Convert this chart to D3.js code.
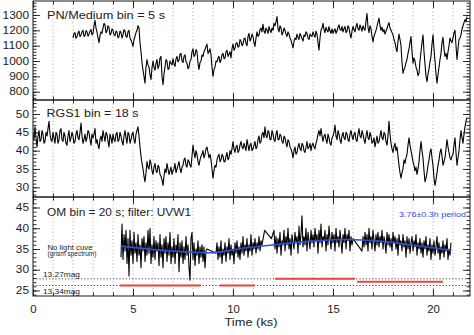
<!DOCTYPE html>
<html><head><meta charset="utf-8">
<script src="https://cdn.jsdelivr.net/npm/d3@7"></script>
<style>
body{margin:0;background:#fff;}
svg{display:block;font-family:"Liberation Sans",Arial,sans-serif;}
</style></head><body>
<svg id="c" width="474" height="335"></svg>
<script>
// ---------------- data ----------------
const xTicks = [0, 5, 10, 15, 20];
const pnTicks = [800, 900, 1000, 1100, 1200, 1300];
const rgsTicks = [30, 35, 40, 45, 50];
const omTicks = [25, 30, 35, 40, 45];

// EPIC-pn count rate, 0.05 ks bins from 2.0 ks
const pnStart = 2.0, pnStep = 0.05;
const pnValues = [
 1150,1178,1185,1148,1160,1182,1195,1158,1170,1190,1200,1160,1165,1198,1190,1162,1175,1195,1205,1170,
 1180,1230,1265,1215,1190,1150,1120,1165,1190,1180,1215,1245,1235,1185,1195,1230,1220,1170,1180,1210,
 1200,1170,1165,1195,1190,1150,1160,1195,1185,1150,1170,1205,1195,1160,1155,1190,1200,1150,1135,1120,
 1095,1140,1160,1185,1200,1230,1215,1120,1060,990,940,900,855,960,1010,975,960,910,880,955,
 1000,960,940,985,1010,950,970,1020,1030,900,845,915,960,1010,1000,945,950,1000,985,975,
 1015,980,965,1015,1030,995,1005,1045,1050,1000,990,1030,1040,995,985,950,960,1000,1010,1060,
 1080,1030,1040,1075,1060,985,945,990,1000,1040,1030,1060,1075,1095,1110,1050,1060,1080,1040,960,
 900,945,960,1000,995,1020,1030,990,1005,1040,1050,1015,1020,1060,1070,1030,1045,1060,1020,1080,
 1110,1070,1085,1115,1120,1090,1095,1140,1130,1100,1110,1145,1150,1115,1100,1160,1180,1130,1145,1175,
 1160,1120,1095,1150,1190,1160,1170,1205,1215,1190,1240,1195,1180,1215,1200,1180,1225,1200,1185,1215,
 1200,1245,1230,1255,1290,1210,1190,1230,1215,1170,1185,1215,1200,1175,1160,1190,1175,1150,1135,1110,
 1085,1125,1150,1140,1175,1155,1140,1180,1165,1145,1130,1170,1160,1190,1180,1150,1140,1175,1165,1160,
 1190,1170,1155,1195,1175,1120,1070,1150,1200,1215,1245,1205,1185,1220,1200,1190,1225,1195,1180,1210,
 1180,1195,1210,1180,1195,1220,1235,1205,1200,1225,1190,1210,1225,1185,1195,1230,1215,1175,1150,1195,
 1225,1205,1190,1225,1245,1210,1200,1235,1215,1195,1230,1210,1200,1260,1310,1220,1185,1230,1210,1160,
 1125,1160,1180,1200,1225,1255,1280,1230,1200,1220,1190,1205,1175,1195,1210,1235,1250,1215,1200,1185,
 1170,1140,1120,1085,1060,1130,1175,1140,1100,990,920,945,960,990,1010,1050,1080,1120,1160,1060,
 985,1020,1000,960,940,905,920,1000,1060,1120,1170,1060,980,900,865,915,950,995,1030,1110,
 1170,1080,1000,915,855,910,960,1010,1050,1120,1155,1080,1030,1050,1010,1060,1100,1150,1130,1120,
 1150,1185,1200,1100,1010,1080,1140,1150,1170,1210,1230,1250,1270,1255,1290
];

// RGS1 count rate, 0.05 ks bins from 0 ks
const rgsStart = 0.0, rgsStep = 0.05;
const rgsValues = [
 44.5,43.0,46.5,43.5,41.0,44.0,45.5,42.5,43.0,45.5,44.5,42.0,42.5,45.0,44.0,46.0,48.0,44.5,43.0,42.5,
 45.0,43.5,42.0,45.0,44.5,42.0,43.0,45.5,46.0,43.0,42.5,45.0,44.0,42.0,41.5,44.0,45.5,42.5,43.5,45.0,
 44.0,42.0,42.5,44.5,45.5,43.5,43.0,45.0,47.5,44.0,42.0,43.0,44.5,42.5,43.5,45.5,45.0,43.0,41.5,44.5,
 43.5,44.5,46.0,42.0,43.0,41.5,40.5,43.0,44.0,42.5,45.5,44.0,42.5,45.0,44.5,42.5,41.0,44.5,43.5,42.0,
 44.5,43.0,42.5,44.5,45.0,42.5,43.0,45.0,44.0,42.5,41.5,44.0,45.5,43.5,42.0,45.0,44.5,42.0,43.0,44.5,
 45.0,43.0,42.0,44.5,45.5,46.5,44.0,41.0,38.5,36.5,35.0,33.0,31.5,34.0,37.0,35.5,35.0,37.5,36.5,34.5,
 33.5,35.5,36.5,34.5,34.0,36.0,35.5,33.5,33.0,32.0,30.5,33.0,35.0,34.0,36.5,35.0,33.5,34.5,35.5,33.5,
 34.5,35.0,36.5,34.0,35.0,36.0,37.0,35.0,34.0,35.5,36.0,37.5,38.0,36.0,35.5,37.5,37.0,36.0,35.5,38.5,
 41.5,39.5,38.0,40.0,39.0,37.0,36.0,37.5,38.5,39.0,40.0,38.0,39.0,40.5,41.0,39.5,38.0,39.0,37.5,35.0,
 32.5,34.5,36.0,35.5,37.5,38.5,39.0,37.0,37.5,39.0,38.5,37.0,37.0,38.5,39.5,37.5,38.0,40.0,39.0,40.5,
 42.5,40.5,39.5,41.0,41.5,39.5,40.0,41.5,42.5,41.0,40.5,42.0,41.0,40.0,43.0,41.5,40.0,41.5,42.0,40.0,
 40.5,41.5,42.5,40.5,41.0,43.0,44.0,42.0,42.5,44.5,45.0,43.5,46.5,44.0,43.5,45.5,45.0,43.0,43.0,45.5,
 44.5,43.0,42.5,44.5,45.5,43.0,43.0,44.5,44.0,42.5,42.0,44.0,43.5,42.0,41.0,43.0,42.5,41.0,40.5,39.5,
 38.0,40.0,41.0,39.0,39.5,41.0,42.0,40.5,40.0,42.0,41.5,40.0,39.5,41.0,42.5,40.5,41.0,42.0,40.0,41.5,
 42.0,41.0,40.5,42.0,43.0,44.5,45.5,44.0,46.0,44.0,42.5,44.0,44.5,43.0,42.0,44.5,43.5,42.0,41.5,43.5,
 44.0,45.0,47.0,44.0,43.0,45.5,44.5,43.0,42.0,44.0,45.0,43.5,43.0,45.0,44.5,43.0,42.5,44.5,45.5,44.0,
 43.0,44.5,45.0,43.0,42.5,44.5,46.0,44.0,43.5,45.5,44.5,43.0,42.0,44.0,45.5,43.5,43.0,45.0,44.0,42.0,
 42.5,43.5,41.0,42.5,44.0,42.0,42.5,44.0,45.5,43.5,43.0,45.0,44.5,42.5,41.5,44.0,48.0,44.5,42.0,40.5,
 39.5,41.0,42.0,40.0,41.0,38.5,36.0,34.0,32.5,34.0,35.0,37.5,36.5,38.0,39.0,41.5,43.5,41.5,40.0,38.5,
 37.0,36.0,34.5,35.5,33.5,35.0,37.0,40.0,42.5,40.0,38.0,34.5,31.5,32.5,34.0,36.0,37.5,39.5,40.5,38.0,
 36.0,32.5,30.5,32.0,34.0,36.0,37.5,39.5,40.5,38.5,36.0,37.0,38.0,40.5,43.0,41.0,39.5,38.0,37.5,38.5,
 39.0,41.5,43.5,39.5,36.0,38.0,40.0,43.0,45.5,43.5,42.0,44.5,46.5,48.0,49.0
];

// OM light curve: segments (start time, bin step, values)
const omStarts = [4.40, 9.15, 11.58, 12.05, 16.45];
const omSteps  = [0.05, 0.05, 0.34, 0.05, 0.05];
const omSeg1 = [
 33.0,41.0,32.5,38.5,34.5,39.5,31.5,37.5,28.5,39.5,
 33.5,37.0,31.5,39.0,34.0,36.5,32.0,38.5,33.5,36.0,
 30.5,37.5,34.5,38.0,32.0,36.5,33.5,39.5,34.0,40.0,
 31.5,36.0,33.0,38.0,32.5,37.0,34.5,36.5,31.0,38.5,
 33.0,36.0,30.5,37.5,34.0,38.0,32.0,36.5,33.5,39.0,
 31.5,35.5,33.0,37.5,31.5,36.0,34.0,38.5,29.5,36.5,
 33.0,37.0,31.5,35.5,32.5,38.0,33.5,36.0,30.5,27.5,
 37.5,39.0,32.5,36.5,31.0,35.0,33.5,37.0,31.5,35.5,
 33.0,36.0,32.0,35.5,30.5,34.5,35.0
];
const omSeg2 = [
 34.0,36.5,32.5,35.5,33.0,37.0,31.5,35.0,33.5,36.5,
 32.0,35.5,34.0,37.5,32.5,36.0,33.5,35.0,31.5,36.5,
 34.0,37.0,33.0,35.5,32.5,36.5,34.0,38.0,33.5,36.0,
 34.5,37.5,33.0,36.0,34.5,38.5,33.5,36.5,35.0,37.5,
 34.0,36.5,35.0,38.0,34.5,37.0,36.0
];
const omGap = [39.5, 37.5];
const omSeg3 = [
 39.5,35.0,38.0,34.0,37.5,35.5,39.0,33.5,37.0,36.0,
 39.5,34.5,38.0,36.0,40.0,35.0,37.5,33.5,38.5,36.5,
 35.0,39.0,36.5,38.0,34.0,40.5,36.0,38.5,43.0,35.5,
 38.0,36.0,40.0,34.5,39.0,37.0,35.0,39.5,36.5,38.5,
 35.5,40.0,37.0,38.5,34.0,39.5,36.5,41.0,35.5,38.0,
 37.0,39.5,34.5,38.5,36.0,40.5,37.5,35.0,39.0,36.5,
 38.5,34.5,40.0,36.5,38.0,35.5,39.5,37.0,34.0,38.5,
 36.5,40.0,35.0,38.5,37.0,39.5,34.5,38.0,36.0,37.5
];
const omSeg4 = [
 34.5,38.0,35.5,39.0,36.0,38.5,34.5,40.0,36.5,38.0,
 35.0,39.5,37.0,34.5,38.5,36.0,39.0,35.5,38.0,36.5,
 39.5,35.0,38.0,36.5,34.0,39.0,36.0,38.5,35.5,37.5,
 34.5,39.0,36.5,38.0,35.0,37.5,33.5,38.5,36.0,37.0,
 34.5,38.5,35.5,37.0,33.0,38.0,35.0,37.5,34.0,36.5,
 38.0,34.5,37.0,35.5,38.5,33.5,36.5,35.0,37.5,34.0,
 36.5,33.0,37.0,35.0,38.0,33.5,36.0,34.5,37.5,32.5,
 36.0,34.0,37.0,33.5,35.5,38.0,34.0,36.5,32.5,35.5,
 34.0,37.0,33.0,36.0,34.5,37.5,32.5,35.0,33.5,36.5
];

// sinusoid fit (3.76 h period)
const fitT = [4.42, 7.0, 8.83, 10.67, 12.17, 14.0, 15.67, 17.33, 19.0, 20.92];
const fitV = [35.7, 34.5, 34.1, 35.3, 36.1, 36.9, 37.3, 36.9, 35.9, 34.7];

// magnitude reference levels and red bars
const magLevels = [27.8, 26.2];
const magLabels = ["13.27mag", "13.34mag"];
const redStart = [4.35, 9.35, 12.1, 16.2];
const redEnd   = [8.4, 11.1, 16.1, 20.5];
const redLevel = [26.2, 26.2, 27.8, 27.1];

// ---------------- drawing ----------------
const svg = d3.select('#c');
svg.append('rect').attr('width',474).attr('height',335).attr('fill','#fff');
const XL = 33, XR = 470;
const x = d3.scaleLinear().domain([0, 21.85]).range([XL, XR]);
const ink = '#1a1a1a';

const panels = [
  {top:1, bottom:100, domain:[746,1391], major:pnTicks, minorStep:20},
  {top:100, bottom:197, domain:[27.35,53.82], major:rgsTicks, minorStep:1},
  {top:197, bottom:296, domain:[23.67,47.53], major:omTicks, minorStep:1}
];
panels.forEach(p => { p.y = d3.scaleLinear().domain(p.domain).range([p.bottom, p.top]); });

const defs = svg.append('defs');
panels.forEach((p,i) => {
  defs.append('clipPath').attr('id','clip'+i).append('rect')
    .attr('x',XL).attr('y',p.top).attr('width',XR-XL).attr('height',p.bottom-p.top);
});

function stretch(sel, perChar){
  sel.each(function(){
    const s = this.textContent;
    d3.select(this).attr('textLength', s.length*perChar).attr('lengthAdjust','spacingAndGlyphs');
  });
}

panels.forEach((p,i) => {
  svg.append('g').selectAll('line').data(d3.range(1,22)).join('line')
    .attr('x1',d=>x(d)).attr('x2',d=>x(d)).attr('y1',p.top).attr('y2',p.bottom)
    .attr('stroke','#999').attr('stroke-width',0.8).attr('stroke-dasharray','1,2.5');
});

// OM: magnitude dotted lines, red bars
const pOM = panels[2];
svg.append('g').selectAll('line').data(magLevels).join('line')
  .attr('x1',XL).attr('x2',XR).attr('y1',d=>pOM.y(d)).attr('y2',d=>pOM.y(d))
  .attr('stroke','#333').attr('stroke-width',0.9).attr('stroke-dasharray','1.2,2');
svg.append('g').selectAll('line').data(redStart).join('line')
  .attr('x1',(d)=>x(d)).attr('x2',(d,i)=>x(redEnd[i]))
  .attr('y1',(d,i)=>pOM.y(redLevel[i])).attr('y2',(d,i)=>pOM.y(redLevel[i]))
  .attr('stroke','#e8453f').attr('stroke-width',2);

// light curves
const pnData = pnValues.map((v,i)=>({t:pnStart+i*pnStep, v}));
const rgsData = rgsValues.map((v,i)=>({t:rgsStart+i*rgsStep, v}));
const omSegs = [omSeg1, omSeg2, omGap, omSeg3, omSeg4];
const omData = [];
omSegs.forEach((seg,k)=>seg.forEach((v,i)=>omData.push({t:omStarts[k]+i*omSteps[k], v})));

[[pnData,0],[rgsData,1],[omData,2]].forEach(([data,i])=>{
  const p = panels[i];
  const line = d3.line().x(d=>x(d.t)).y(d=>p.y(d.v));
  svg.append('path').datum(data).attr('d',line).attr('clip-path','url(#clip'+i+')')
    .attr('fill','none').attr('stroke','#000').attr('stroke-width',1.1).attr('stroke-linejoin','round');
});

// blue fit
const fitData = fitT.map((t,i)=>({t, v:fitV[i]}));
svg.append('path').datum(fitData)
  .attr('d', d3.line().x(d=>x(d.t)).y(d=>pOM.y(d.v)).curve(d3.curveMonotoneX))
  .attr('fill','none').attr('stroke','#2d4fe0').attr('stroke-width',1.6);

// axes and frames
panels.forEach((p,i) => {
  const minor = d3.range(Math.ceil(p.domain[0]/p.minorStep)*p.minorStep, p.domain[1], p.minorStep);
  const xMinor = d3.range(1,22);
  const left = svg.append('g').attr('transform',`translate(${XL},0)`)
    .call(d3.axisLeft(p.y).tickValues(p.major).tickSize(-7).tickPadding(4).tickFormat(d3.format('d')));
  svg.append('g').attr('transform',`translate(${XL},0)`)
    .call(d3.axisLeft(p.y).tickValues(minor).tickSize(-3.5).tickFormat(''));
  svg.append('g').attr('transform',`translate(${XR},0)`)
    .call(d3.axisRight(p.y).tickValues(p.major).tickSize(-7).tickFormat(''));
  svg.append('g').attr('transform',`translate(${XR},0)`)
    .call(d3.axisRight(p.y).tickValues(minor).tickSize(-3.5).tickFormat(''));
  const bot = svg.append('g').attr('transform',`translate(0,${p.bottom})`)
    .call(d3.axisBottom(x).tickValues(xTicks).tickSize(-7).tickPadding(10)
      .tickFormat(i===2 ? d3.format('d') : ''));
  svg.append('g').attr('transform',`translate(0,${p.bottom})`)
    .call(d3.axisBottom(x).tickValues(xMinor).tickSize(-3.5).tickFormat(''));
  svg.append('g').attr('transform',`translate(0,${p.top})`)
    .call(d3.axisTop(x).tickValues(xTicks).tickSize(-7).tickFormat(''));
  svg.append('g').attr('transform',`translate(0,${p.top})`)
    .call(d3.axisTop(x).tickValues(xMinor).tickSize(-3.5).tickFormat(''));

  left.selectAll('text').attr('font-size',10).attr('fill','#222')
    .attr('font-family','"Liberation Sans",Arial,sans-serif');
  stretch(left.selectAll('text'), 6.6);
  bot.selectAll('text').attr('font-size',10).attr('fill','#222')
    .attr('font-family','"Liberation Sans",Arial,sans-serif');
  stretch(bot.selectAll('text'), 6.3);

  svg.append('rect').attr('x',XL).attr('y',p.top).attr('width',XR-XL).attr('height',p.bottom-p.top)
    .attr('fill','none').attr('stroke',ink).attr('stroke-width',1);
});
svg.selectAll('.domain').remove();
svg.selectAll('.tick line').attr('stroke',ink).attr('stroke-width',0.9);

// texts
function label(txt, x0, y0, size, len, opts={}){
  const t = svg.append('text').attr('x',x0).attr('y',y0).attr('font-size',size)
    .attr('fill',opts.fill||'#222').attr('text-anchor',opts.anchor||'start').text(txt);
  if(len) t.attr('textLength',len).attr('lengthAdjust','spacingAndGlyphs');
  return t;
}
label('PN/Medium bin = 5 s', 47, 19, 10, 118);
label('RGS1 bin = 18 s', 46.5, 117, 10, 92);
label('OM bin = 20 s; filter: UVW1', 47, 215.5, 10, 144);
label('Time (ks)', 251, 326, 10, 53, {anchor:'middle'});
label(magLabels[0], 43, 277, 6.5, 37);
label(magLabels[1], 43, 293.5, 6.5, 37);
label('No light cuve', 47.5, 249.5, 6.5, 45);
label('(grism spectrum)', 47.5, 256, 6.5, 49);
label('3.76\u00b10.3h period', 399, 217, 7, 67, {fill:'#2d4fe0'});
</script>
</body></html>
